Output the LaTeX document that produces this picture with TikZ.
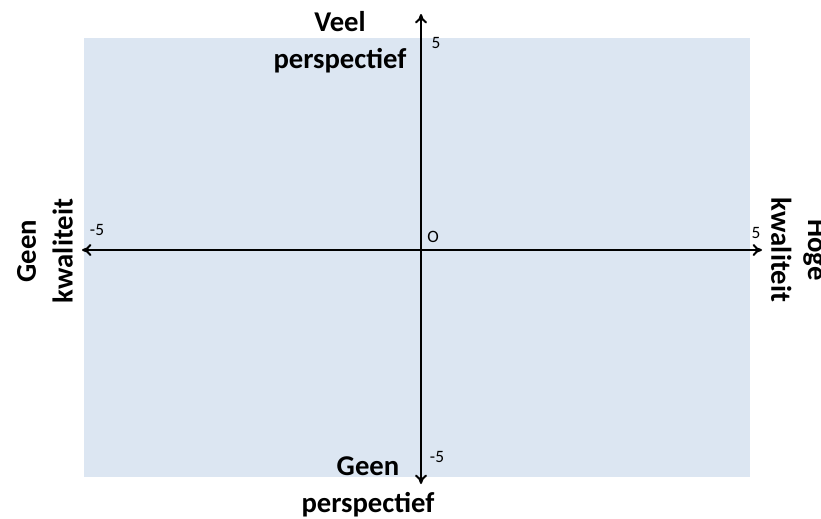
\documentclass[tikz,border=0pt]{standalone}
\usepackage{fontspec}
\setmainfont{Carlito}
\usetikzlibrary{arrows.meta}

\definecolor{paneblue}{RGB}{220,230,242}

\tikzset{
  axislabel/.style={font=\bfseries\fontsize{21.5}{27.5}\selectfont, align=center, inner sep=0pt},
  ticklabel/.style={font=\fontsize{13}{15}\selectfont, inner sep=0pt},
  axisline/.style={line width=1.5pt, -{To[length=7pt,width=9pt]}}
}

\begin{document}
\begin{tikzpicture}[x=0.75pt,y=-0.75pt]

  \useasboundingbox (0,0) rectangle (821,518);

  % Background pane
  \fill[paneblue] (84,38) rectangle (750,477);

  % Axis ends
  \coordinate (O) at (421,250);
  \coordinate (L) at (82,250);
  \coordinate (R) at (762,250);
  \coordinate (T) at (421,14);
  \coordinate (B) at (421,484);

  % Axes
  \draw[axisline] (O) -- (L);
  \draw[axisline] (O) -- (R);
  \draw[axisline] (O) -- (T);
  \draw[axisline] (O) -- (B);

  % Tick labels
  \node[ticklabel] (origin) at (433,237) {O};
  \node[ticklabel] (ytop) at (436,43) {5};
  \node[ticklabel] (ybot) at (437,457) {-5};
  \node[ticklabel] (xleft) at (97,230) {-5};
  \node[ticklabel] (xright) at (756,233) {5};

  % Axis labels
  \node[axislabel] (veel) at (340,42) {Veel\\perspectief};
  \node[axislabel] (geenp) at (368,487) {Geen\\perspectief};
  \node[axislabel, rotate=90] (geenk) at (45,251) {Geen\\kwaliteit};
  \node[axislabel, rotate=-90] (hoge) at (799,250) {Hoge\\kwaliteit};

\end{tikzpicture}
\end{document}
